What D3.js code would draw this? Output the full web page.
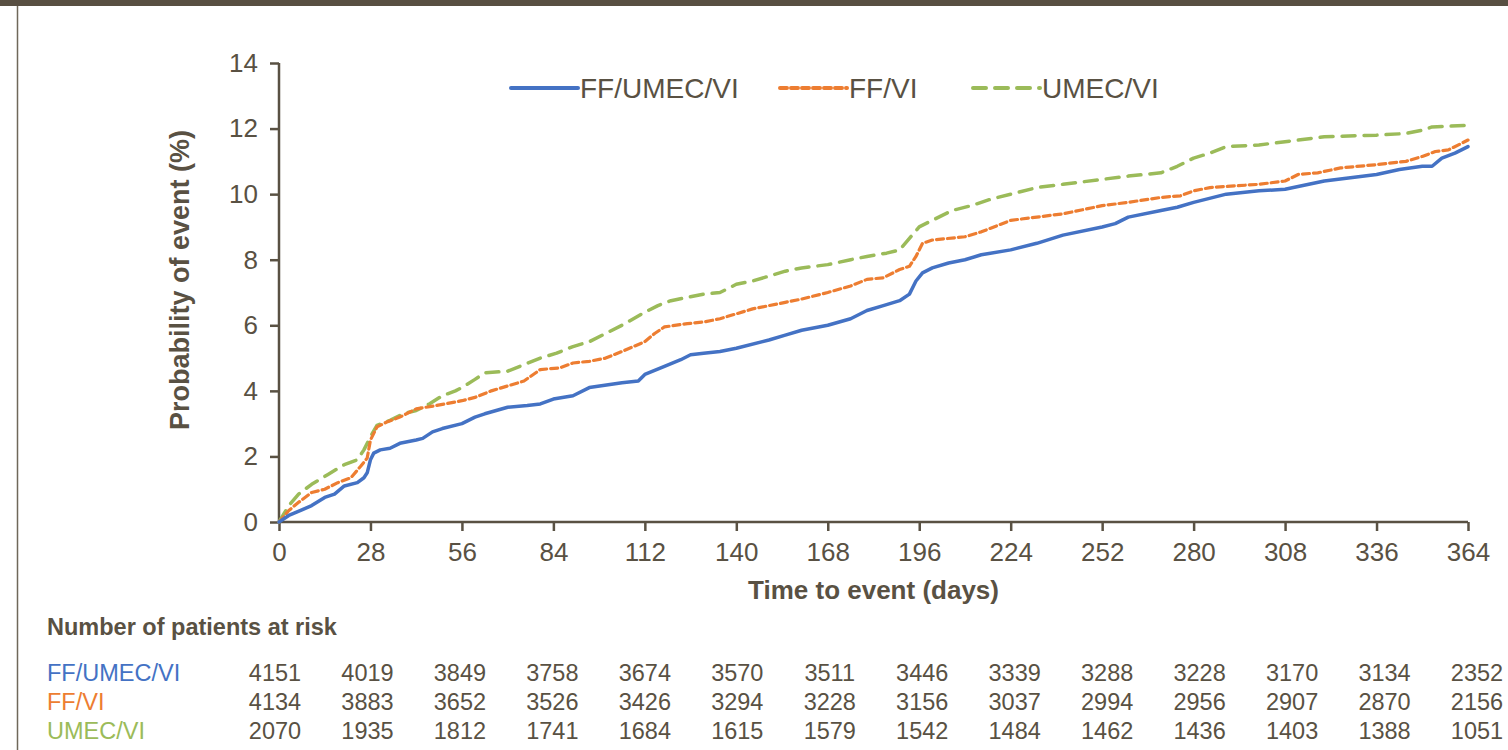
<!DOCTYPE html>
<meta charset="utf-8">
<style>
  body { margin: 0; background: #fff; }
  text { font-family: "Liberation Sans", Arial, sans-serif; }
</style>
<body>
<div id="chart"></div>
<script src="https://cdn.jsdelivr.net/npm/d3@7"></script>
<script>
// ---- data ----
const seriesNames = ["FF/UMEC/VI", "FF/VI", "UMEC/VI"];
const colors = ["#4472c4", "#ed7d31", "#9bbb59"];

const blueDays = [0, 3, 7, 10, 14, 17, 20, 24, 26, 27, 28, 29, 31, 34, 37, 42, 44, 47, 50, 56, 60, 63, 70, 76, 80, 84, 90, 95, 105, 110, 112, 118, 123, 126, 130, 135, 140, 150, 155, 160, 168, 175, 180, 185, 190, 193, 195, 197, 200, 205, 210, 215, 224, 232, 240, 252, 256, 260, 270, 275, 280, 290, 300, 308, 320, 336, 343, 350, 353, 356, 360, 364];
const blueVals = [0, 0.2, 0.37, 0.5, 0.75, 0.85, 1.1, 1.2, 1.35, 1.5, 1.9, 2.1, 2.2, 2.25, 2.4, 2.5, 2.55, 2.75, 2.85, 3.0, 3.2, 3.3, 3.5, 3.55, 3.6, 3.75, 3.85, 4.1, 4.25, 4.3, 4.5, 4.75, 4.95, 5.1, 5.15, 5.2, 5.3, 5.55, 5.7, 5.85, 6.0, 6.2, 6.45, 6.6, 6.75, 6.95, 7.35, 7.6, 7.75, 7.9, 8.0, 8.15, 8.3, 8.5, 8.75, 9.0, 9.1, 9.3, 9.5, 9.6, 9.75, 10.0, 10.1, 10.15, 10.4, 10.6, 10.75, 10.85, 10.85, 11.1, 11.25, 11.45];

const orangeDays = [0, 3, 6, 10, 14, 18, 22, 25, 27, 28, 30, 33, 37, 42, 48, 56, 60, 65, 70, 75, 80, 86, 90, 95, 100, 105, 112, 115, 118, 125, 130, 135, 140, 145, 150, 155, 160, 168, 175, 180, 185, 190, 193, 195, 197, 200, 210, 215, 224, 232, 240, 252, 260, 270, 276, 280, 285, 300, 308, 312, 318, 325, 336, 345, 350, 354, 358, 364];
const orangeVals = [0, 0.35, 0.6, 0.9, 1.0, 1.2, 1.35, 1.7, 1.95, 2.5, 2.9, 3.05, 3.2, 3.45, 3.55, 3.7, 3.8, 4.0, 4.15, 4.3, 4.65, 4.7, 4.85, 4.9, 5.0, 5.2, 5.5, 5.75, 5.95, 6.05, 6.1, 6.2, 6.35, 6.5, 6.6, 6.7, 6.8, 7.0, 7.2, 7.4, 7.45, 7.7, 7.8, 8.1, 8.5, 8.6, 8.7, 8.85, 9.2, 9.3, 9.4, 9.65, 9.75, 9.9, 9.95, 10.1, 10.2, 10.3, 10.4, 10.6, 10.65, 10.8, 10.9, 11.0, 11.15, 11.3, 11.35, 11.65];

const greenDays = [0, 3, 6, 10, 15, 20, 24, 26, 28, 30, 34, 38, 42, 46, 50, 54, 56, 60, 63, 70, 75, 80, 85, 90, 95, 100, 105, 112, 116, 120, 125, 130, 135, 140, 145, 150, 155, 160, 168, 175, 180, 186, 190, 193, 196, 200, 206, 212, 218, 224, 232, 240, 252, 260, 270, 275, 280, 285, 290, 300, 308, 320, 336, 345, 350, 353, 364];
const greenVals = [0, 0.5, 0.85, 1.15, 1.45, 1.75, 1.9, 2.2, 2.6, 2.95, 3.1, 3.3, 3.4, 3.6, 3.85, 4.0, 4.1, 4.35, 4.55, 4.6, 4.8, 5.0, 5.15, 5.35, 5.5, 5.75, 6.0, 6.4, 6.6, 6.75, 6.85, 6.95, 7.0, 7.25, 7.35, 7.5, 7.65, 7.75, 7.85, 8.0, 8.1, 8.2, 8.3, 8.65, 9.0, 9.2, 9.5, 9.65, 9.85, 10.0, 10.2, 10.3, 10.45, 10.55, 10.65, 10.85, 11.1, 11.25, 11.45, 11.5, 11.6, 11.75, 11.8, 11.85, 11.95, 12.05, 12.1];

const xTicks = [0, 28, 56, 84, 112, 140, 168, 196, 224, 252, 280, 308, 336, 364];
const yTicks = [0, 2, 4, 6, 8, 10, 12, 14];

const atRisk = [
  [4151, 4019, 3849, 3758, 3674, 3570, 3511, 3446, 3339, 3288, 3228, 3170, 3134, 2352],
  [4134, 3883, 3652, 3526, 3426, 3294, 3228, 3156, 3037, 2994, 2956, 2907, 2870, 2156],
  [2070, 1935, 1812, 1741, 1684, 1615, 1579, 1542, 1484, 1462, 1436, 1403, 1388, 1051]
];

// ---- layout ----
const width = 1508, height = 750;
const ink = "#595143";

const svg = d3.select("#chart").append("svg")
    .attr("width", width)
    .attr("height", height);

svg.append("rect")
    .attr("x", 0).attr("y", 0)
    .attr("width", width).attr("height", 6)
    .style("fill", "#584f42");

svg.append("line")
    .attr("x1", 17.5).attr("x2", 17.5)
    .attr("y1", 6).attr("y2", height)
    .style("stroke", "#6f685a")
    .style("stroke-width", 1.5);

const x = d3.scaleLinear().domain([0, 364]).range([279, 1468]);
const y = d3.scaleLinear().domain([0, 14]).range([522, 63]);

// axes
const yAxis = svg.append("g")
    .attr("transform", "translate(279,0)")
    .call(d3.axisLeft(y).tickValues(yTicks).tickSize(9).tickPadding(12));
const xAxis = svg.append("g")
    .attr("transform", "translate(0,522)")
    .call(d3.axisBottom(x).tickValues(xTicks).tickSize(9).tickPadding(12));

[xAxis, yAxis].forEach(a => {
  a.select(".domain").style("stroke", ink).style("stroke-width", 2.5);
  a.selectAll(".tick line").style("stroke", ink).style("stroke-width", 2.5);
  a.selectAll(".tick text")
      .style("fill", ink)
      .style("font-size", "26px")
      .style("font-family", '"Liberation Sans", Arial, sans-serif');
});
// axis domain without outer tick bends
yAxis.select(".domain").attr("d", "M0," + y(14) + "V" + y(0));
xAxis.select(".domain").attr("d", "M" + x(0) + ",0H" + x(364));

svg.append("text")
    .attr("transform", "translate(189,280) rotate(-90)")
    .attr("text-anchor", "middle")
    .style("fill", ink)
    .style("font-size", "27px")
    .style("font-weight", "bold")
    .text("Probability of event (%)");

svg.append("text")
    .attr("x", (x(0) + x(364)) / 2)
    .attr("y", 599)
    .attr("text-anchor", "middle")
    .style("fill", ink)
    .style("font-size", "26px")
    .style("font-weight", "bold")
    .text("Time to event (days)");

// curves
const series = [
  { days: blueDays, vals: blueVals, dash: null, w: 3.5 },
  { days: orangeDays, vals: orangeVals, dash: "7,4", w: 3.2 },
  { days: greenDays, vals: greenVals, dash: "13,9", w: 3.5 }
];

const line = d3.line()
    .x(d => x(d[0]))
    .y(d => y(d[1]));

// draw green first so blue sits on top
[2, 1, 0].forEach(i => {
  const s = series[i];
  const pts = s.days.map((d, j) => [d, s.vals[j]]);
  svg.append("path")
      .datum(pts)
      .attr("d", line)
      .style("fill", "none")
      .style("stroke", colors[i])
      .style("stroke-width", s.w)
      .style("stroke-linejoin", "round")
      .style("stroke-linecap", "round")
      .style("stroke-dasharray", s.dash);
});

// legend
const legendX = [511, 780, 973];
seriesNames.forEach((name, i) => {
  const g = svg.append("g").attr("transform", "translate(" + legendX[i] + ",88)");
  g.append("line")
      .attr("x1", 0).attr("x2", 67)
      .attr("y1", 0).attr("y2", 0)
      .style("stroke", colors[i])
      .style("stroke-width", 4)
      .style("stroke-linecap", "round")
      .style("stroke-dasharray", series[i].dash);
  g.append("text")
      .attr("x", 69)
      .attr("y", 10)
      .style("fill", ink)
      .style("font-size", "28px")
      .text(name);
});

// at-risk table
svg.append("text")
    .attr("x", 47)
    .attr("y", 635)
    .style("fill", ink)
    .style("font-size", "23.5px")
    .style("font-weight", "bold")
    .text("Number of patients at risk");

const col = d3.scaleLinear().domain([0, 13]).range([275, 1477]);
const rowY = [681, 710, 739];

atRisk.forEach((row, r) => {
  svg.append("text")
      .attr("x", 47)
      .attr("y", rowY[r])
      .style("fill", colors[r])
      .style("font-size", "23.5px")
      .text(seriesNames[r]);
  svg.append("g").selectAll("text")
      .data(row)
      .enter().append("text")
      .attr("x", (d, j) => col(j))
      .attr("y", rowY[r])
      .attr("text-anchor", "middle")
      .style("fill", ink)
      .style("font-size", "23.5px")
      .text(d => d);
});
</script>
</body>
